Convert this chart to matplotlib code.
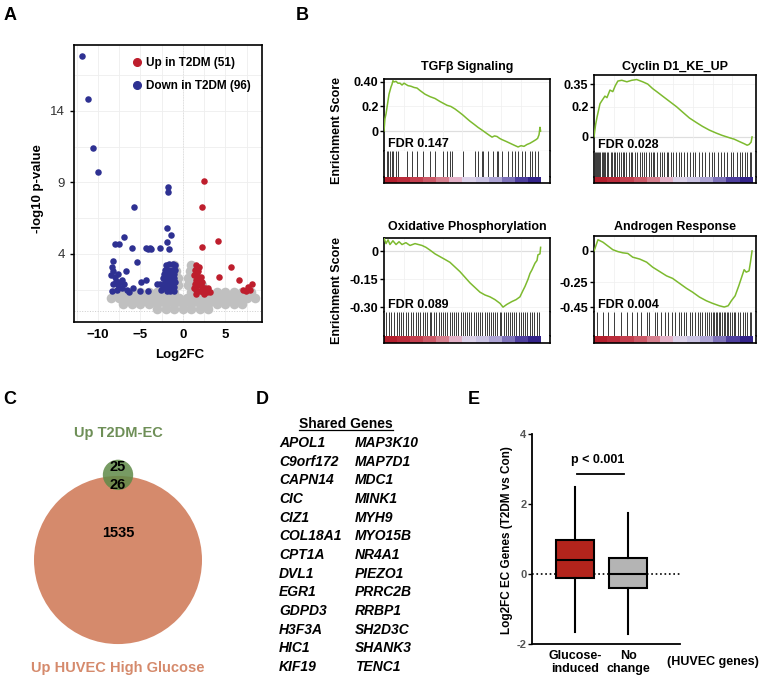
import numpy as np
import matplotlib
matplotlib.use('Agg')
import matplotlib.pyplot as plt
from matplotlib.lines import Line2D
from matplotlib.patches import Circle
from matplotlib.colors import to_rgb

plt.rcParams['font.family'] = ['Liberation Sans', 'DejaVu Sans']

# ---- A: volcano ----
up_x = [2.5, 2.2, 4.1, 2.2, 5.6, 4.2, 6.6, 8.1, 7.6, 7.1, 7.9, 7.4,
        1.6, 1.9, 1.4, 1.8, 1.3, 1.7, 2.1, 1.5, 1.9, 2.3, 1.4, 1.8, 2.2, 2.6, 1.6, 2.0, 2.4, 2.8, 3.2, 1.3, 2.9, 1.5, 2.5]
up_y = [9.1, 7.3, 4.9, 4.5, 3.1, 2.4, 2.2, 1.9, 1.7, 1.5, 1.5, 1.4,
        3.2, 3.1, 2.9, 2.8, 2.5, 2.5, 2.4, 2.2, 2.1, 2.0, 1.9, 1.8, 1.7, 1.6, 1.5, 1.4, 1.3, 1.3, 1.3, 1.6, 1.6, 1.2, 1.2]
down_x = [-11.9, -11.1, -10.6, -10.0, -5.8, -1.7, -1.7, -1.9, -1.4, -1.9, -1.6, -2.7, -6.9, -8.0, -7.5, -6.0, -3.9, -3.7, -4.1, -4.3, -5.4, -8.2,
          -8.3, -8.2, -8.4, -8.0, -7.9, -8.2, -7.6, -7.4, -7.1, -7.8, -8.3, -7.2, -6.9, -6.6, -6.3, -7.6, -6.7, -5.9, -4.9, -4.3, -5.0, -4.1, -2.7, -2.3,
          -2.0, -1.6, -1.2, -0.9, -2.1, -1.7, -1.3, -0.9, -2.2, -1.8, -1.4, -1.0, -2.3, -1.9, -1.5, -1.1, -2.1, -1.7, -1.3, -0.9, -2.2, -1.8, -1.4, -1.0, -1.9, -1.5, -1.1, -2.6, -3.1]
down_y = [17.8, 14.8, 11.4, 9.7, 7.3, 8.7, 8.3, 5.8, 5.3, 4.8, 4.3, 4.4, 5.2, 4.7, 4.7, 4.4, 4.4, 4.3, 4.3, 4.4, 3.4, 3.5,
          3.1, 2.8, 2.5, 2.4, 2.1, 1.9, 1.8, 2.0, 2.2, 1.5, 1.4, 1.6, 1.9, 1.5, 1.3, 2.6, 2.8, 1.6, 2.0, 2.2, 1.4, 1.4, 1.9, 1.6,
          3.2, 3.3, 3.3, 3.2, 2.9, 2.9, 2.9, 2.9, 2.6, 2.6, 2.6, 2.6, 2.3, 2.3, 2.3, 2.3, 2.0, 2.0, 2.0, 2.0, 1.7, 1.7, 1.7, 1.7, 1.4, 1.4, 1.4, 1.5, 1.9]
grey_x = [-3, -2, -1, 0, 1, 2, 3,
          -7, -6, -5, -4, -3, -2, -1, 0, 1, 2, 3, 4, 5, 6, 7,
          -8.5, -7.5, -6.5, -5.5, -4.5, -3.5, -2.5, -1.5, -0.5, 0.5, 1.5, 2.5, 3.5, 4.5, 5.5, 6.5, 7.5, 8.5,
          -8, -7, -6, -5, -4, -3, -2, -1, 1, 2, 3, 4, 5, 6, 7, 8,
          -2.2, -1.6, -1.0, -0.6, 0.6, 1.0, 1.6, 2.2,
          -1.6, -1.0, -0.6, 0.6, 1.0, 1.6,
          -1.2, -0.8, 0.8, 1.2,
          -1.0, 1.0]
grey_y = [0.15, 0.15, 0.15, 0.15, 0.15, 0.15, 0.15,
          0.5, 0.5, 0.5, 0.5, 0.5, 0.5, 0.5, 0.5, 0.5, 0.5, 0.5, 0.5, 0.5, 0.5, 0.5,
          0.9, 0.9, 0.9, 0.9, 0.9, 0.9, 0.9, 0.9, 0.9, 0.9, 0.9, 0.9, 0.9, 0.9, 0.9, 0.9, 0.9, 0.9,
          1.3, 1.3, 1.3, 1.3, 1.3, 1.3, 1.3, 1.3, 1.3, 1.3, 1.3, 1.3, 1.3, 1.3, 1.3, 1.3,
          1.8, 1.8, 1.8, 1.8, 1.8, 1.8, 1.8, 1.8,
          2.3, 2.3, 2.3, 2.3, 2.3, 2.3,
          2.8, 2.8, 2.8, 2.8,
          3.2, 3.2]
legend_labels = ['Up in T2DM (51)', 'Down in T2DM (96)']

# ---- B: GSEA ----
tgfb_x = [0, 0.6, 1.3, 2.6, 3.2, 4.5, 5.1, 5.7, 6.4, 7.7, 8.9, 10.2, 11.5, 12.8, 14.0, 15.3, 17.2, 19.2, 21.1, 23.0,
          26.2, 29.4, 32.6, 35.8, 38.0, 40.2, 42.7, 45.3, 47.9, 50.4, 52.6, 54.9, 57.5, 60.0, 62.3, 64.5, 66.7, 69.0, 70.6, 72.2,
          73.8, 75.3, 78.0, 80.5, 83.0, 85.6, 87.5, 89.4, 91.3, 93.2, 95.2, 97.1, 98.1, 99.0, 99.6, 100]
tgfb_es = [0, 0.10, 0.14, 0.25, 0.30, 0.36, 0.38, 0.41, 0.40, 0.405, 0.39, 0.39, 0.375, 0.39, 0.38, 0.37, 0.365, 0.355, 0.35, 0.33,
           0.30, 0.28, 0.265, 0.24, 0.225, 0.21, 0.20, 0.18, 0.155, 0.13, 0.105, 0.08, 0.055, 0.03, 0.01, -0.01, -0.03, -0.05, -0.04, -0.045,
           -0.06, -0.07, -0.085, -0.10, -0.115, -0.13, -0.12, -0.125, -0.11, -0.10, -0.085, -0.07, -0.06, -0.03, 0.03, 0.0]
tgfb_hits = [1.7, 2.8, 3.8, 4.9, 5.9, 7.4, 9.1, 14.4, 17.6, 20.8, 25.1, 29.4, 32.6, 37.9, 40.0, 42.2, 43.3, 50.7,
             58.2, 60.3, 62.4, 63.5, 66.7, 69.8, 71.9, 73.1, 75.2, 79.4, 81.5, 83.7, 85.8, 87.9, 90.0, 93.3, 94.3, 96.5, 98.6]

cyc_x = [0, 1.0, 1.9, 3.8, 5.0, 6.9, 8.2, 10.1, 11.9, 13.5, 15.1, 17.6, 20.8, 23.9, 27.0, 30.8, 34.0, 37.1, 40.3, 43.4,
         47.8, 52.2, 56.0, 60.4, 64.8, 68.6, 73.0, 77.4, 81.1, 85.5, 88.7, 91.8, 95.0, 96.9, 98.1, 99.4, 100]
cyc_es = [0, 0.08, 0.13, 0.22, 0.24, 0.27, 0.26, 0.31, 0.30, 0.34, 0.37, 0.375, 0.365, 0.375, 0.38, 0.365, 0.35, 0.32, 0.295, 0.27,
          0.235, 0.20, 0.165, 0.125, 0.095, 0.07, 0.045, 0.025, 0.01, -0.005, -0.015, -0.03, -0.045, -0.055, -0.05, -0.035, 0.0]
cyc_hits = [0.5, 1.2, 2.0, 2.6, 3.3, 4.1, 4.8, 5.5, 6.3, 7.0, 8.2, 9.0, 10.5, 11.3, 12.6, 13.4, 14.8, 16.0, 17.2, 18.5,
            19.1, 20.4, 22.0, 23.5, 24.3, 25.8, 27.5, 29.0, 30.6, 31.4, 33.0, 34.7, 36.1, 37.5, 38.2, 39.8, 41.5, 43.0,
            44.6, 46.2, 47.0, 48.5, 50.1, 52.0, 53.6, 55.2, 57.0, 58.8, 60.5, 62.7, 64.0, 66.3, 68.5, 70.2, 72.8, 74.5,
            76.0, 78.3, 80.1, 82.0, 84.2, 86.5, 88.0, 90.3, 92.1, 93.8, 95.5, 97.0, 98.6, 99.5]

ox_x = [0, 1.3, 2.6, 3.8, 5.7, 7.7, 9.6, 11.5, 14.0, 16.6, 19.8, 24.3, 26.8, 29.4, 32.6, 35.8, 39.0, 42.1, 45.3, 48.5,
        51.7, 54.9, 58.1, 61.3, 64.5, 67.7, 70.9, 74.1, 76.0, 78.5, 81.7, 84.3, 86.8, 88.8, 90.0, 92.0, 93.2, 94.5, 96.4, 97.7,
        98.3, 99.6, 100]
ox_es = [0.07, 0.04, 0.06, 0.035, 0.055, 0.035, 0.05, 0.035, 0.045, 0.03, 0.04, 0.03, 0.02, 0.005, -0.015, -0.03, -0.045, -0.06, -0.085, -0.11,
         -0.14, -0.17, -0.195, -0.22, -0.235, -0.245, -0.26, -0.28, -0.30, -0.285, -0.27, -0.26, -0.245, -0.21, -0.19, -0.15, -0.12, -0.10, -0.065, -0.05,
         -0.02, -0.015, 0.02]
ox_hits = [1.0, 3.0, 4.5, 6.2, 8.0, 9.5, 11.0, 12.3, 14.2, 15.5, 17.0, 18.8, 20.5, 22.0, 23.1, 24.6, 26.0, 27.5, 29.3, 30.2,
           31.8, 33.5, 35.0, 36.1, 37.6, 39.2, 40.5, 42.0, 43.3, 44.8, 46.0, 47.5, 49.0, 50.2, 51.6, 53.0, 54.5, 55.8, 57.3,
           58.6, 60.0, 61.5, 62.8, 64.3, 65.5, 67.0, 68.2, 69.6, 71.0, 72.3, 73.8, 75.0, 76.4, 77.6, 79.0, 80.3, 81.8, 83.0,
           84.5, 86.0, 87.2, 88.6, 90.0, 91.5, 93.0, 94.5, 96.0, 97.5, 99.0]

and_x = [0, 0.6, 2.5, 5.7, 8.8, 11.9, 15.1, 18.2, 21.4, 24.5, 28.9, 33.3, 37.1, 41.5, 45.9, 49.7, 54.1, 58.5, 62.3, 66.7,
         71.1, 74.9, 79.3, 82.4, 84.9, 86.9, 89.3, 91.6, 93.7, 95.0, 96.3, 98.1, 99.0, 100]
and_es = [0, 0.02, 0.09, 0.07, 0.04, 0.01, -0.005, -0.015, -0.02, -0.05, -0.065, -0.09, -0.13, -0.165, -0.20, -0.22, -0.26, -0.30, -0.33, -0.37,
          -0.40, -0.42, -0.44, -0.45, -0.44, -0.40, -0.36, -0.28, -0.20, -0.15, -0.17, -0.16, -0.09, 0.0]
and_hits = [2.0, 5.5, 9.0, 12.5, 17.0, 21.0, 24.0, 27.5, 30.0, 33.5, 35.0, 38.5, 40.0, 42.5, 45.0, 47.0, 49.5, 51.0, 53.5,
            55.0, 57.0, 58.5, 60.5, 62.0, 64.0, 65.5, 67.0, 68.5, 70.0, 71.5, 72.5, 74.0, 75.0, 76.0, 77.0, 78.0, 79.0,
            80.0, 81.0, 82.0, 83.0, 84.0, 85.0, 86.0, 87.0, 88.5, 89.5, 91.0, 92.5, 94.0, 95.5, 97.0, 98.5, 99.5]

gsea_titles = ['TGF\u03b2 Signaling', 'Cyclin D1_KE_UP', 'Oxidative Phosphorylation', 'Androgen Response']
gsea_fdr = ['0.147', '0.028', '0.089', '0.004']
gsea_ticks = [[0, 0.2, 0.4], [0, 0.2, 0.35], [0, -0.15, -0.30], [0, -0.25, -0.45]]
gsea_ticklabels = [['0', '0.2', '0.40'], ['0', '0.2', '0.35'], ['0', '-0.15', '-0.30'], ['0', '-0.25', '-0.45']]
bar_colors = ['#b41f2d', '#bb2c3b', '#c4404f', '#cc5a68', '#d7808f', '#e4b2c8', '#ddd3ea', '#cbc4e4',
              '#aea5d6', '#7f73ba', '#4e3f9f', '#33238a']

# ---- C: venn ----
venn_only_t2dm = 25
venn_shared = 26
venn_only_huvec = 1535

# ---- D: genes ----
genes_left = ['APOL1', 'C9orf172', 'CAPN14', 'CIC', 'CIZ1', 'COL18A1', 'CPT1A', 'DVL1', 'EGR1', 'GDPD3', 'H3F3A', 'HIC1', 'KIF19']
genes_right = ['MAP3K10', 'MAP7D1', 'MDC1', 'MINK1', 'MYH9', 'MYO15B', 'NR4A1', 'PIEZO1', 'PRRC2B', 'RRBP1', 'SH2D3C', 'SHANK3', 'TENC1']

# ---- E: boxplot ----
box_labels = ['Glucose-\ninduced', 'No\nchange']
box_med = [0.4, 0.0]
box_q1 = [-0.1, -0.4]
box_q3 = [0.97, 0.47]
box_lo = [-1.65, -1.7]
box_hi = [2.5, 1.75]
box_colors = ['#b3241c', '#b4b4b4']

W, H = 762, 680


def rect(x0, y0, x1, y1):
    return [x0 / W, 1 - y1 / H, (x1 - x0) / W, (y1 - y0) / H]


def fx(px):
    return px / W


def fy(py):
    return 1 - py / H


fig = plt.figure(figsize=(7.62, 6.8), dpi=100)

# panel letters
for lab, px, py in [('A', 10, 15), ('B', 302, 15), ('C', 10, 400), ('D', 262, 400), ('E', 474, 400)]:
    fig.text(fx(px), fy(py), lab, fontsize=13, fontweight='bold', ha='center', va='center')

# ---------- A ----------
ax = fig.add_axes(rect(74, 45, 262, 322))
ax.scatter(grey_x, grey_y, s=48, color='#c0c0c0', lw=0, zorder=2)
ax.scatter(down_x, down_y, s=22, color='#2e3192', lw=0, zorder=3)
ax.scatter(up_x, up_y, s=22, color='#be1e2d', lw=0, zorder=3)
ax.set_xlim(-12.8, 9.3)
ax.set_ylim(-0.77, 18.6)
ax.set_xticks([-10, -5, 0, 5])
ax.set_xticklabels(['\u221210', '\u22125', '0', '5'], fontweight='bold')
ax.set_xticks([-12.5, -7.5, -2.5, 2.5, 7.5], minor=True)
ax.set_yticks([4, 9, 14])
ax.set_yticks([1.5, 6.5, 11.5, 16.5], minor=True)
ax.grid(which='both', color='#eeeeee', lw=0.6, zorder=0)
ax.axhline(0, color='#cccccc', lw=0.7, ls=':', zorder=1)
ax.axvline(0, color='#dddddd', lw=0.7, ls=':', zorder=1)
ax.set_axisbelow(True)
ax.tick_params(which='minor', length=0)
ax.tick_params(axis='x', which='major', length=0, labelsize=9.5, pad=5)
ax.tick_params(axis='y', which='major', length=3, width=1, labelsize=9.5, labelcolor='#333333')
for s in ax.spines.values():
    s.set_linewidth(1.2)
handles = [Line2D([], [], marker='o', ls='', color='#be1e2d', markersize=5.5),
           Line2D([], [], marker='o', ls='', color='#2e3192', markersize=5.5)]
ax.legend(handles, legend_labels, loc='upper left', bbox_to_anchor=(0.30, 0.957), frameon=False,
          prop={'weight': 'bold', 'size': 8.5}, handletextpad=0.1, labelspacing=0.95,
          borderpad=0, borderaxespad=0, handlelength=1.2)
fig.text(fx(38), fy(189), '-log10 p-value', rotation=90, fontsize=9.5, fontweight='bold', ha='center', va='center')
fig.text(fx(180), fy(355), 'Log2FC', fontsize=9.5, fontweight='bold', ha='center', va='center')

# ---------- B ----------
gsea_x = [tgfb_x, cyc_x, ox_x, and_x]
gsea_es = [tgfb_es, cyc_es, ox_es, and_es]
gsea_hits = [tgfb_hits, cyc_hits, ox_hits, and_hits]
# x0, top, x1, es bottom, hits bottom, bottom, title y, xmax
gsea_pos = [(384, 79, 550, 151, 177, 183, 67, 106),
            (594, 75, 756, 152, 177, 183, 67, 102.5),
            (384, 238, 550, 312, 336, 343, 227, 106),
            (594, 236, 756, 312, 336, 343, 227, 102.5)]
gsea_ylim = [(-0.163, 0.424), (-0.10, 0.41), (-0.326, 0.07), (-0.49, 0.12)]
bar_rgb = np.array([to_rgb(c) for c in bar_colors])[None, :, :]

for i in range(4):
    x0, top, x1, yes, yhit, ybot, ty, xmax = gsea_pos[i]
    ax = fig.add_axes(rect(x0, top, x1, yes))
    ax.plot(gsea_x[i], gsea_es[i], color='#7dba2f', lw=1.1, zorder=3)
    ax.axhline(0, color='#b8b8b8', lw=0.8, zorder=1)
    ax.set_xlim(0, xmax)
    ax.set_ylim(gsea_ylim[i])
    ax.set_xticks([12.5, 25, 37.5, 50, 62.5, 75, 87.5])
    ax.tick_params(axis='x', length=0, labelbottom=False)
    ax.set_yticks(gsea_ticks[i])
    ax.set_yticklabels(gsea_ticklabels[i], fontweight='bold', fontsize=9)
    ax.tick_params(axis='y', length=3, width=1, pad=1)
    ax.grid(color='#efefef', lw=0.5, zorder=0)
    for k in ['top', 'left', 'right']:
        ax.spines[k].set_linewidth(1.2)
    ax.spines['bottom'].set_color('#b0b0b0')
    ax.spines['bottom'].set_linewidth(0.8)
    ax.text(0.025, 0.01, 'FDR ' + gsea_fdr[i], transform=ax.transAxes, fontsize=9, fontweight='bold',
            ha='left', va='bottom')
    fig.text(fx((x0 + x1) / 2), fy(ty), gsea_titles[i], fontsize=9, fontweight='bold', ha='center', va='center')

    hx = fig.add_axes(rect(x0, yes, x1, yhit))
    hx.vlines(gsea_hits[i], 0, 1, color='#1a1a1a', lw=0.6)
    hx.set_xlim(0, xmax)
    hx.set_ylim(0, 1)
    hx.set_xticks([])
    hx.set_yticks([])
    hx.spines['top'].set_visible(False)
    hx.spines['bottom'].set_visible(False)
    for k in ['left', 'right']:
        hx.spines[k].set_linewidth(1.2)

    bx = fig.add_axes(rect(x0, yhit, x1, ybot))
    bx.imshow(bar_rgb, extent=(0, 100, 0, 1), aspect='auto', interpolation='nearest')
    bx.set_xlim(0, xmax)
    bx.set_ylim(0, 1)
    bx.set_xticks([])
    bx.set_yticks([])
    bx.spines['top'].set_visible(False)
    for k in ['left', 'right', 'bottom']:
        bx.spines[k].set_linewidth(1.2)

    if i in (0, 2):
        fig.text(fx(337), fy((top + ybot) / 2), 'Enrichment Score', rotation=90, fontsize=9,
                 fontweight='bold', ha='center', va='center')

# ---------- C ----------
vx = fig.add_axes(rect(0, 410, 236, 680))
r_big = np.sqrt(venn_only_huvec + venn_shared)
r_small = np.sqrt(venn_only_t2dm + venn_shared)
vx.add_patch(Circle((0, 0), r_big, color='#d58a6c', lw=0))
vx.add_patch(Circle((0, r_big + 0.5), r_small, color='#5f8a48', alpha=0.85, lw=0))
vx.set_xlim(-55.5, 55.5)
vx.set_ylim(-56.4, 70.5)
vx.axis('off')
fig.text(fx(118), fy(433), 'Up T2DM-EC', color='#6e8f57', fontsize=10.5, fontweight='bold', ha='center', va='center')
fig.text(fx(118), fy(467), str(venn_only_t2dm), fontsize=10.5, fontweight='bold', ha='center', va='center')
fig.text(fx(118), fy(485), str(venn_shared), fontsize=10.5, fontweight='bold', ha='center', va='center')
fig.text(fx(118), fy(533), str(venn_only_huvec), fontsize=10.5, fontweight='bold', ha='center', va='center')
fig.text(fx(118), fy(668), 'Up HUVEC High Glucose', color='#d58a6c', fontsize=10.5, fontweight='bold',
         ha='center', va='center')

# ---------- D ----------
title = fig.text(fx(346), fy(424), 'Shared Genes', fontsize=10, fontweight='bold', ha='center', va='center')
for j in range(len(genes_left)):
    yy = 443 + j * 18.65
    fig.text(fx(279), fy(yy), genes_left[j], fontsize=10, fontweight='bold', fontstyle='italic', ha='left', va='center')
    fig.text(fx(355), fy(yy), genes_right[j], fontsize=10, fontweight='bold', fontstyle='italic', ha='left', va='center')
fig.canvas.draw()
bb = title.get_window_extent().transformed(fig.transFigure.inverted())
fig.add_artist(Line2D([bb.x0, bb.x1], [bb.y0 + 0.001, bb.y0 + 0.001], color='black', lw=0.9))

# ---------- E ----------
ex = fig.add_axes(rect(532, 434, 680, 644))
stats = []
for j in range(2):
    stats.append(dict(med=box_med[j], q1=box_q1[j], q3=box_q3[j], whislo=box_lo[j], whishi=box_hi[j], label=box_labels[j]))
bp = ex.bxp(stats, positions=[1, 2], widths=0.72, showfliers=False, showcaps=False, patch_artist=True,
            boxprops=dict(lw=1.5, edgecolor='black'), whiskerprops=dict(lw=1.5, color='black'),
            medianprops=dict(lw=1.5, color='black'))
for patch, c in zip(bp['boxes'], box_colors):
    patch.set_facecolor(c)
ex.axhline(0, color='black', lw=1.2, ls=':', zorder=0)
ex.plot([1.04, 1.92], [2.86, 2.86], color='black', lw=1.3)
ex.text(1.42, 3.1, 'p < 0.001', fontsize=9, fontweight='bold', ha='center', va='bottom')
ex.set_xlim(0.19, 2.98)
ex.set_ylim(-2, 4)
ex.set_yticks([-2, 0, 2, 4])
ex.set_yticklabels(['-2', '0', '2', '4'], fontweight='bold', color='#555555', fontsize=8)
ex.tick_params(axis='y', length=3, width=1, pad=1)
ex.tick_params(axis='x', length=0, labelsize=9, pad=4)
for lbl in ex.get_xticklabels():
    lbl.set_fontweight('bold')
ex.spines['top'].set_visible(False)
ex.spines['right'].set_visible(False)
ex.spines['left'].set_linewidth(1.3)
ex.spines['bottom'].set_linewidth(1.3)
fig.text(fx(507), fy(540), 'Log2FC EC Genes (T2DM vs Con)', rotation=90, fontsize=8.5, fontweight='bold',
         ha='center', va='center')
fig.text(fx(713), fy(662), '(HUVEC genes)', fontsize=9, fontweight='bold', ha='center', va='center')

fig.savefig('out.png', dpi=100)
